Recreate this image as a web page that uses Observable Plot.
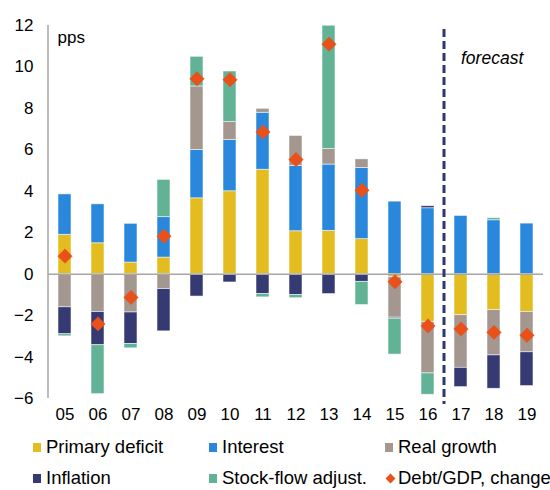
<!DOCTYPE html>
<html><head><meta charset="utf-8">
<script src="https://cdn.jsdelivr.net/npm/d3@7"></script>
<script src="https://cdn.jsdelivr.net/npm/@observablehq/plot@0.6"></script>
<style>
body{margin:0;background:#fff;font-family:"Liberation Sans",Arial,sans-serif;}
#legend{position:relative;width:550px;height:59px;font-size:18.5px;color:#000;}
.item{position:absolute;display:flex;align-items:center;height:20px;white-space:nowrap;}
.sw{width:8px;height:9px;margin-right:5px;}
.dia{width:7px;height:7px;transform:rotate(45deg);margin:0 4px 0 1px;background:#E9501A;}
</style></head>
<body><div id="chart"></div><div id="legend"></div>
<script>
const years = ["05","06","07","08","09","10","11","12","13","14","15","16","17","18","19"];
const seriesNames = ["Primary deficit","Interest","Real growth","Inflation","Stock-flow adjust."];
const seriesColors = ["#E3BD1F","#2A88DC","#A3978F","#353A73","#62B396"];
const primary   = [1.9, 1.49, 0.56, 0.8, 3.66, 4.0, 5.04, 2.07, 2.09, 1.69, -0.15, -2.3, -1.98, -1.73, -1.82];
const interest  = [1.95, 1.88, 1.87, 1.95, 2.33, 2.47, 2.75, 3.15, 3.2, 3.43, 3.5, 3.18, 2.81, 2.6, 2.44];
const realGrowth= [-1.6, -1.83, -1.85, -0.72, 3.07, 0.87, 0.19, 1.45, 0.75, 0.42, -1.95, -2.49, -2.54, -2.19, -1.95];
const inflation = [-1.3, -1.6, -1.52, -2.04, -1.08, -0.4, -0.96, -1.01, -0.96, -0.37, -0.05, 0.1, -0.93, -1.61, -1.63];
const sfa       = [-0.1, -2.36, -0.21, 1.8, 1.43, 2.44, -0.16, -0.15, 5.95, -1.12, -1.73, -1.03, 0, 0.1, 0];
const debtChange= [0.87, -2.4, -1.12, 1.83, 9.43, 9.38, 6.86, 5.53, 11.1, 4.05, -0.37, -2.5, -2.65, -2.81, -2.95];
const yTicks = [-6,-4,-2,0,2,4,6,8,10,12];
const firstForecast = "17";
const lastActual = "16";

const allSeries = [primary, interest, realGrowth, inflation, sfa];
const rows = [];
allSeries.forEach((arr, si) => arr.forEach((v, i) => rows.push({year: years[i], series: seriesNames[si], value: v})));
const debtRows = years.map((y, i) => ({year: y, value: debtChange[i]}));

const forecastLine = (index, {x, y}) => {
  const bw = x.bandwidth();
  const xs = ((x(lastActual) + bw) + x(firstForecast)) / 2;
  const g = d3.create("svg:g");
  g.append("line").attr("x1", xs).attr("x2", xs).attr("y1", y(12) + 4).attr("y2", y(-6) + 6)
    .attr("stroke", "#2F3676").attr("stroke-width", 3).attr("stroke-dasharray", "8,4");
  return g.node();
};
const axisLine = (index, {y}, values, dims) => {
  const g = d3.create("svg:g");
  g.append("line").attr("x1", dims.marginLeft).attr("x2", dims.marginLeft)
    .attr("y1", y(12)).attr("y2", y(-6)).attr("stroke", "#A6A6A6").attr("stroke-width", 1.5);
  return g.node();
};

const chart = Plot.plot({
  width: 550, height: 431,
  marginTop: 25, marginBottom: 33, marginLeft: 48, marginRight: 7,
  style: {fontFamily: '"Liberation Sans", Arial, sans-serif', fontSize: "17px", color: "#000", background: "#fff"},
  x: {domain: years, paddingInner: 0.6, paddingOuter: 0.3, label: null, tickSize: 0, tickPadding: 9},
  y: {domain: [-6, 12], ticks: yTicks, label: null, tickSize: 0, tickPadding: 15},
  color: {domain: seriesNames, range: seriesColors},
  marks: [
    Plot.barY(rows, Plot.stackY({x: "year", y: "value", fill: "series", order: seriesNames,
      stroke: "white", strokeWidth: 0.75, strokeOpacity: 0.7})),
    Plot.ruleY([0], {stroke: "#A6A6A6", strokeWidth: 1.5}),
    axisLine,
    Plot.dot(debtRows, {x: "year", y: "value", symbol: "diamond2", r: 6.5, fill: "#E9501A", stroke: "#E9501A", strokeWidth: 0.5}),
    forecastLine,
    Plot.text(["forecast"], {x: [firstForecast], y: [10.4], text: d => d, textAnchor: "start", fontStyle: "italic", fontSize: 17.5}),
    Plot.text(["pps"], {frameAnchor: "top-left", dx: 9, dy: 5, text: d => d, fontSize: 17, textAnchor: "start", lineAnchor: "top"})
  ]
});
document.getElementById("chart").appendChild(chart);

const legend = document.getElementById("legend");
const positions = [[33,6],[209,6],[385,6],[33,37],[209,37]];
seriesNames.forEach((n, i) => {
  const d = document.createElement("div");
  d.className = "item";
  d.style.left = positions[i][0] + "px"; d.style.top = positions[i][1] + "px";
  d.innerHTML = `<span class="sw" style="background:${seriesColors[i]}"></span><span>${n}</span>`;
  legend.appendChild(d);
});
const dd = document.createElement("div");
dd.className = "item"; dd.style.left = "386px"; dd.style.top = "37px";
dd.innerHTML = `<span class="dia"></span><span>Debt/GDP, change</span>`;
legend.appendChild(dd);
</script></body></html>
